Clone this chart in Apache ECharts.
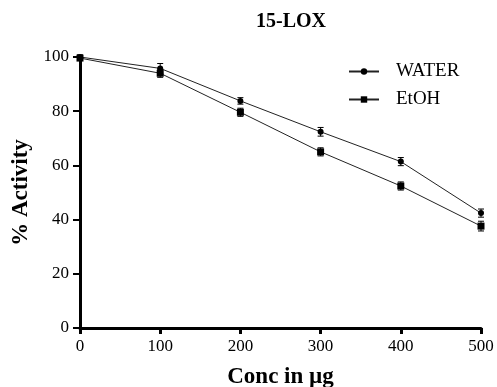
<!DOCTYPE html>
<html><head><meta charset="utf-8">
<script src="https://cdn.jsdelivr.net/npm/echarts@6/dist/echarts.min.js"></script>
<style>html,body{margin:0;padding:0;background:#fff}#c{width:497px;height:387px}</style>
</head><body><div id="c"></div>
<script>
const concentrations = [0, 100, 200, 300, 400, 500];
const waterValues = [100, 95.8, 83.8, 72.4, 61.4, 42.4];
const waterErrors = [0.8, 1.8, 1.2, 1.6, 1.5, 1.5];
const etohValues = [99.6, 94, 79.6, 65, 52.4, 37.6];
const etohErrors = [0.8, 1.5, 1.5, 1.5, 1.5, 1.8];
const yTicks = [0, 20, 40, 60, 80, 100];
const xTicks = [0, 100, 200, 300, 400, 500];

const font = 'Liberation Serif';
function pairs(v){ return concentrations.map((x,i)=>[x, v[i]]); }
function errData(v,e){ return concentrations.map((x,i)=>[x, v[i]-e[i], v[i]+e[i]]); }
function errSeries(name, v, e){
  return {
    type:'custom', name: name+'_err', z:3,
    data: errData(v,e),
    renderItem: function(params, api){
      const x = api.value(0);
      const lo = api.coord([x, api.value(1)]);
      const hi = api.coord([x, api.value(2)]);
      const w = 3;
      const st = {stroke:'#000', lineWidth:1};
      return {type:'group', children:[
        {type:'line', shape:{x1:lo[0],y1:lo[1],x2:hi[0],y2:hi[1]}, style:st},
        {type:'line', shape:{x1:lo[0]-w,y1:lo[1],x2:lo[0]+w,y2:lo[1]}, style:st},
        {type:'line', shape:{x1:hi[0]-w,y1:hi[1],x2:hi[0]+w,y2:hi[1]}, style:st}
      ]};
    }
  };
}
const chart = echarts.init(document.getElementById('c'));
chart.setOption({
  animation:false,
  title:{text:'15-LOX', left:286, top:7, textAlign:'center',
    textStyle:{fontFamily:font, fontWeight:'bold', fontSize:20, color:'#000'}},
  legend:{
    data:['WATER','EtOH'], orient:'vertical', left:343, top:57, itemGap:9,
    itemWidth:30, itemHeight:8,
    textStyle:{fontFamily:font, fontSize:19, color:'#000', padding:[0,0,0,12]}
  },
  grid:{left:80, right:16, top:57, bottom:59, outerBoundsMode:'none', containLabel:false},
  xAxis:{
    type:'value', min:0, max:500, interval:100,
    name:'Conc in µg', nameLocation:'middle', nameGap:38,
    nameTextStyle:{fontFamily:font, fontWeight:'bold', fontSize:23, color:'#000'},
    axisLine:{lineStyle:{color:'#000', width:3}},
    axisTick:{show:true, length:6, lineStyle:{color:'#000', width:3}},
    axisLabel:{fontFamily:font, fontSize:17, color:'#000', margin:10},
    splitLine:{show:false}
  },
  yAxis:{
    type:'value', min:0, max:100, interval:20,
    name:'% Activity', nameLocation:'middle', nameGap:47,
    nameTextStyle:{fontFamily:font, fontWeight:'bold', fontSize:23, color:'#000'},
    axisLine:{show:true, lineStyle:{color:'#000', width:3}},
    axisTick:{show:true, length:7, lineStyle:{color:'#000', width:2}},
    axisLabel:{fontFamily:font, fontSize:17, color:'#000', margin:11},
    splitLine:{show:false}
  },
  series:[
    {name:'WATER', type:'line', data:pairs(waterValues), symbol:'circle', symbolSize:6,
     lineStyle:{color:'#222', width:1}, itemStyle:{color:'#000'}, z:4},
    {name:'EtOH', type:'line', data:pairs(etohValues), symbol:'rect', symbolSize:7,
     lineStyle:{color:'#222', width:1}, itemStyle:{color:'#000'}, z:4},
    errSeries('WATER', waterValues, waterErrors),
    errSeries('EtOH', etohValues, etohErrors)
  ]
});
</script></body></html>
